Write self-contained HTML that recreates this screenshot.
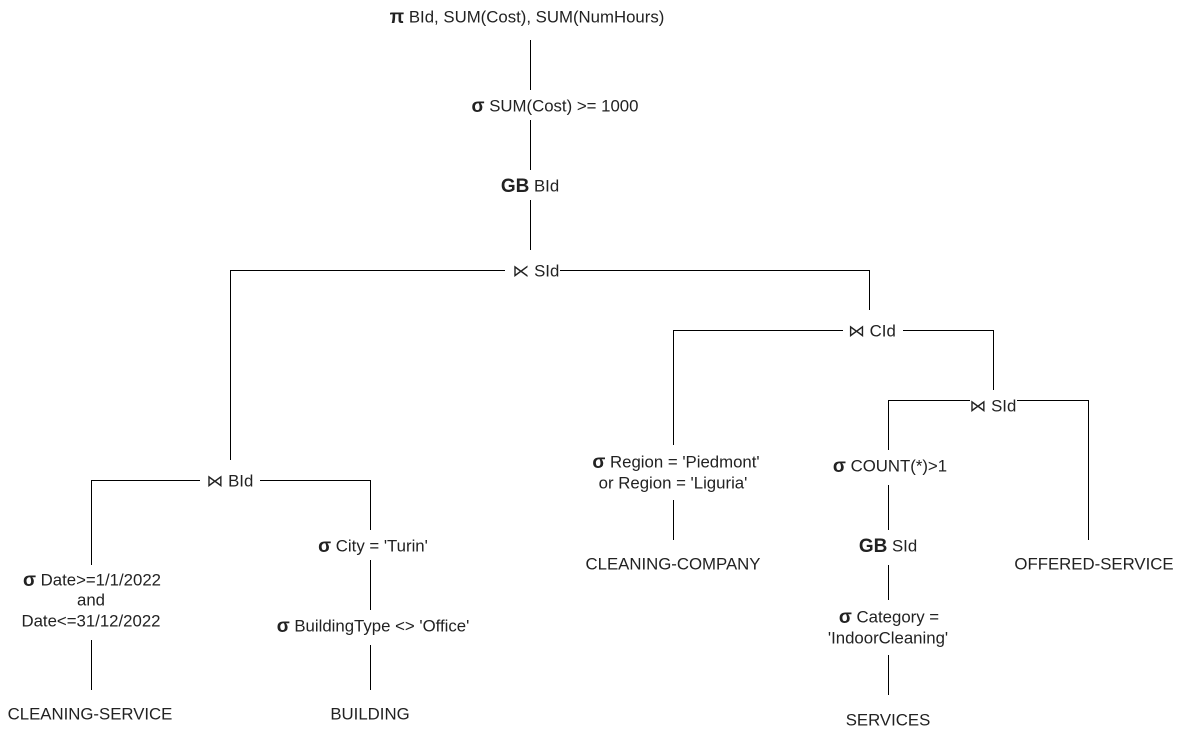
<!DOCTYPE html>
<html><head><meta charset="utf-8"><style>
body{margin:0;background:#fff}
svg{display:block}
text{font-family:"Liberation Sans","DejaVu Sans",sans-serif;font-size:16.8px;fill:#222;text-anchor:middle;dominant-baseline:central}
.b{font-weight:bold;font-size:19px}
</style></head><body>
<svg width="1182" height="736" viewBox="0 0 1182 736">
<g stroke="#000" stroke-width="1" fill="none">
<path d="M530.5 40V90M530.5 120V170M530.5 200V250"/>
<path d="M230.5 460V270.5H505M560 270.5H869.5V310"/>
<path d="M673.5 445V330.5H843M903 330.5H993.5V390"/>
<path d="M888.5 450V400.5H970M1017 400.5H1088.5V540"/>
<path d="M91.5 565V480.5H200M260 480.5H370.5V530"/>
<path d="M673.5 500V540M888.5 485V530M888.5 565V600M888.5 655V695M370.5 560V610M370.5 645V690M91.5 640V690"/>
</g>
<text x="527" y="17"><tspan class="b">π</tspan> BId, SUM(Cost), SUM(NumHours)</text>
<text x="555" y="106"><tspan class="b">σ</tspan> SUM(Cost) &gt;= 1000</text>
<text x="530" y="186"><tspan class="b">GB</tspan> BId</text>
<text x="536" y="271">⋉ SId</text>
<text x="872" y="331">⋈ CId</text>
<text x="993" y="406">⋈ SId</text>
<text x="230" y="481">⋈ BId</text>
<text x="676" y="462"><tspan class="b">σ</tspan> Region = 'Piedmont'</text>
<text x="673" y="483">or Region = 'Liguria'</text>
<text x="673" y="564">CLEANING-COMPANY</text>
<text x="890" y="466"><tspan class="b">σ</tspan> COUNT(*)&gt;1</text>
<text x="888" y="546"><tspan class="b">GB</tspan> SId</text>
<text x="1094" y="564">OFFERED-SERVICE</text>
<text x="889" y="617"><tspan class="b">σ</tspan> Category =</text>
<text x="888" y="638">'IndoorCleaning'</text>
<text x="888" y="720">SERVICES</text>
<text x="92" y="580"><tspan class="b">σ</tspan> Date&gt;=1/1/2022</text>
<text x="91" y="600">and</text>
<text x="91" y="621">Date&lt;=31/12/2022</text>
<text x="373" y="546"><tspan class="b">σ</tspan> City = 'Turin'</text>
<text x="373" y="626"><tspan class="b">σ</tspan> BuildingType &lt;&gt; 'Office'</text>
<text x="90" y="714">CLEANING-SERVICE</text>
<text x="370" y="714">BUILDING</text>
</svg>
</body></html>
